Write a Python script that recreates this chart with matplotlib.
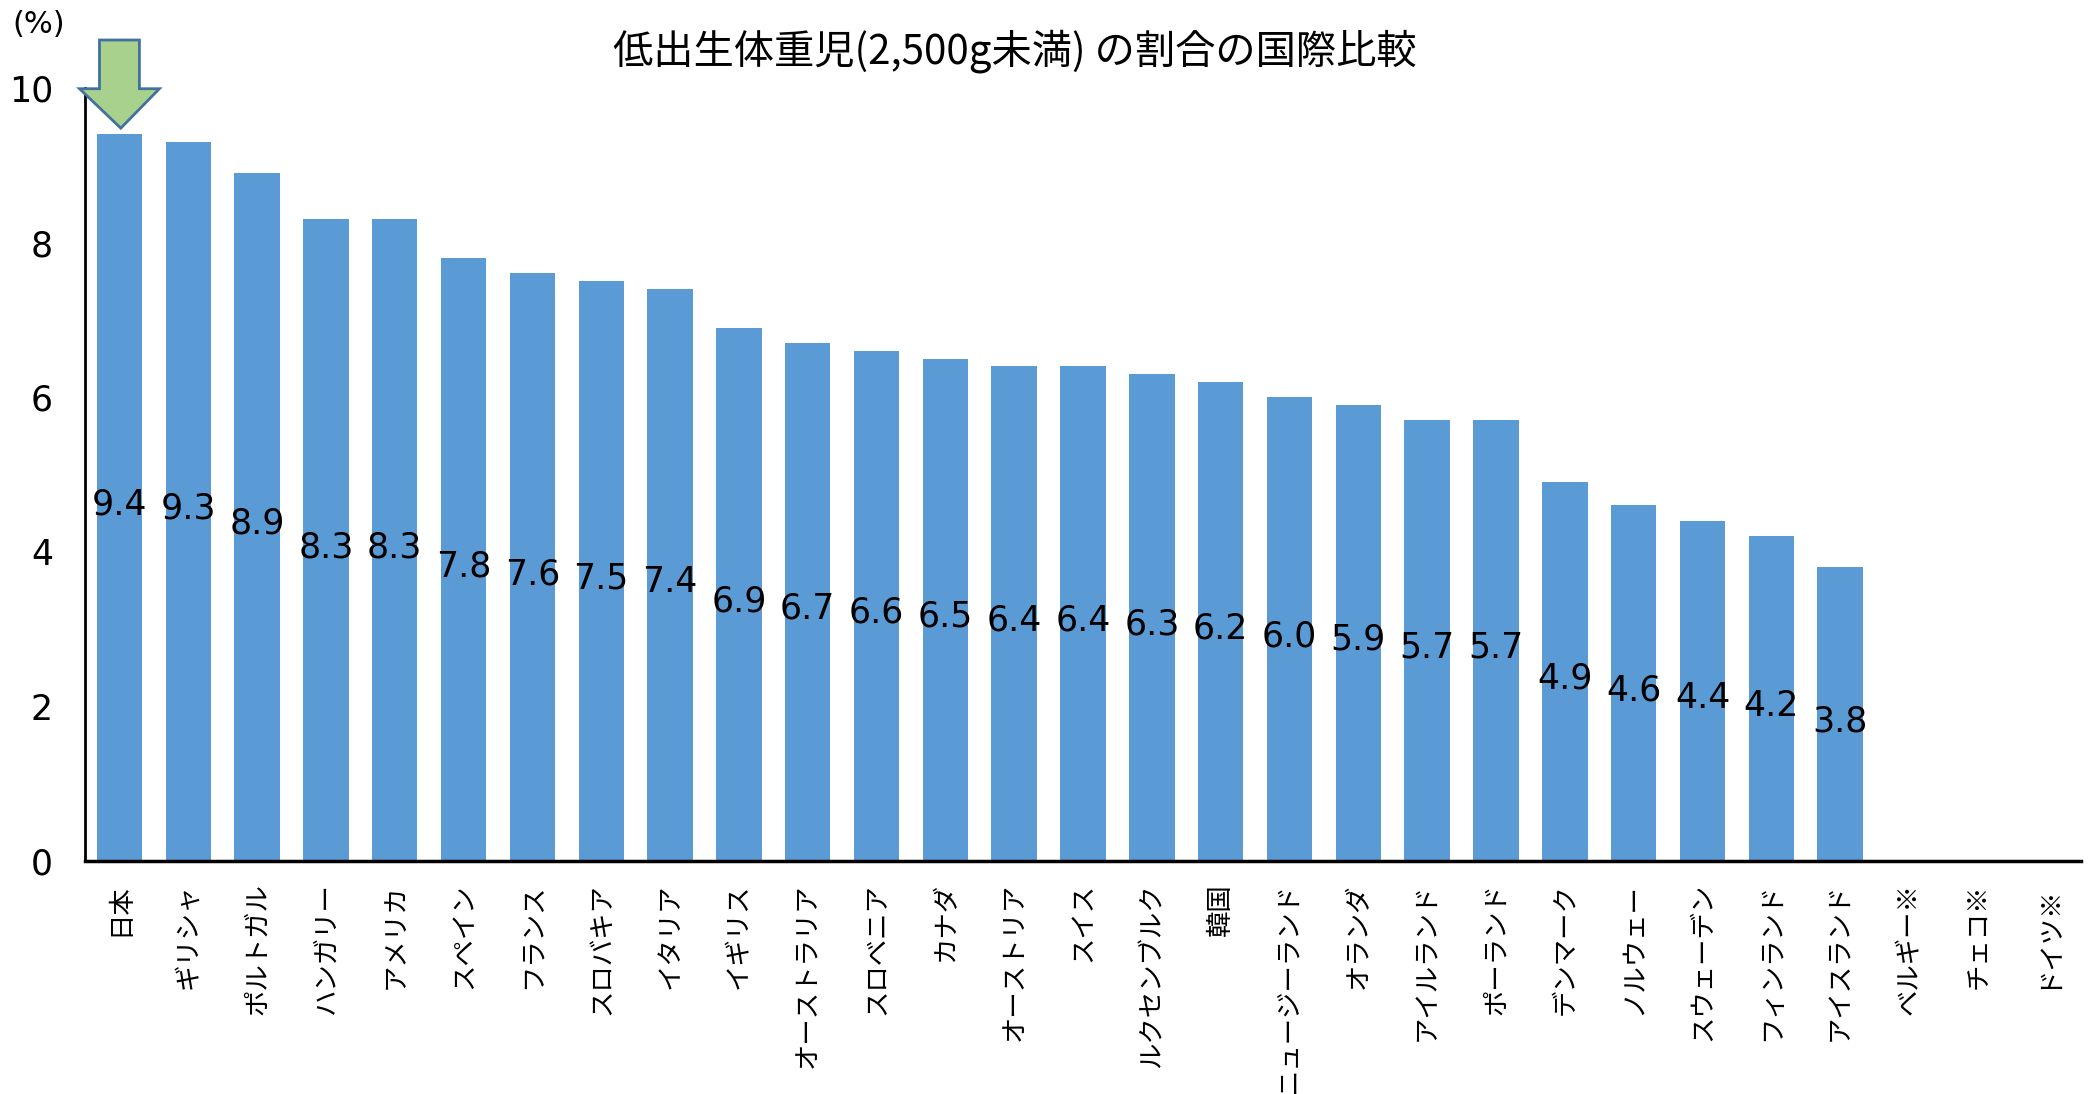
import numpy as np
from matplotlib import pyplot as plt
from matplotlib.patches import Polygon

plt.rcParams['font.family'] = ['Noto Sans CJK JP', 'DejaVu Sans']

countries = ['日本', 'ギリシャ', 'ポルトガル', 'ハンガリー', 'アメリカ', 'スペイン', 'フランス',
             'スロバキア', 'イタリア', 'イギリス', 'オーストラリア', 'スロベニア', 'カナダ',
             'オーストリア', 'スイス', 'ルクセンブルク', '韓国', 'ニュージーランド', 'オランダ',
             'アイルランド', 'ポーランド', 'デンマーク', 'ノルウェー', 'スウェーデン',
             'フィンランド', 'アイスランド', 'ベルギー※', 'チェコ※', 'ドイツ※']
# 最後の3か国はデータなし
rates = [9.4, 9.3, 8.9, 8.3, 8.3, 7.8, 7.6, 7.5, 7.4, 6.9, 6.7, 6.6, 6.5,
         6.4, 6.4, 6.3, 6.2, 6.0, 5.9, 5.7, 5.7, 4.9, 4.6, 4.4, 4.2, 3.8,
         None, None, None]
y_ticks = [0, 2, 4, 6, 8, 10]

title = '低出生体重児(2,500g未満) の割合の国際比較'


def build_graphics(output_png):
    fig = plt.figure(figsize=(20.89, 10.94), dpi=100)
    ax = fig.add_axes([0.0407, 0.213, 0.9555, 0.7066])

    x = np.arange(len(countries))
    heights = np.array([np.nan if v is None else v for v in rates])
    ax.bar(x, heights, width=0.66, color='#5B9BD5', zorder=2)

    for xi, v in zip(x, rates):
        if v is None:
            continue
        ax.annotate(f'{v:.1f}', (xi, v / 2), xytext=(0, -5),
                    textcoords='offset points', ha='center', va='center',
                    fontsize=25, family='DejaVu Sans', zorder=3)

    ax.set_xlim(-0.5, len(countries) - 0.5)
    ax.set_ylim(0, 10)
    ax.set_yticks(y_ticks)
    ax.set_yticklabels([str(t) for t in y_ticks], family='DejaVu Sans', fontsize=25)
    ax.tick_params(axis='y', length=0, pad=23)
    ax.set_xticks(x)
    ax.set_xticklabels(countries, rotation=90, fontsize=19, va='top', ha='center')
    ax.tick_params(axis='x', length=0, pad=16)

    for side in ('top', 'right'):
        ax.spines[side].set_visible(False)
    ax.spines['left'].set_linewidth(2)
    ax.spines['bottom'].set_linewidth(2.5)

    # 日本を指す矢印
    top = rates[0]
    arrow = Polygon([(-0.29, top + 1.22), (0.29, top + 1.22), (0.29, top + 0.59),
                     (0.58, top + 0.59), (0.02, top + 0.08), (-0.58, top + 0.59),
                     (-0.29, top + 0.59)],
                    closed=True, facecolor='#A9D18E', edgecolor='#41719C',
                    linewidth=2, clip_on=False, zorder=4)
    ax.add_patch(arrow)

    fig.text(0.486, 0.953, title, ha='center', va='center', fontsize=29)
    fig.text(0.006, 0.978, '(%)', ha='left', va='center', fontsize=22,
             family='DejaVu Sans')

    fig.savefig(output_png, dpi=100)


def main():
    build_graphics('out.png')


if __name__ == '__main__':
    main()
